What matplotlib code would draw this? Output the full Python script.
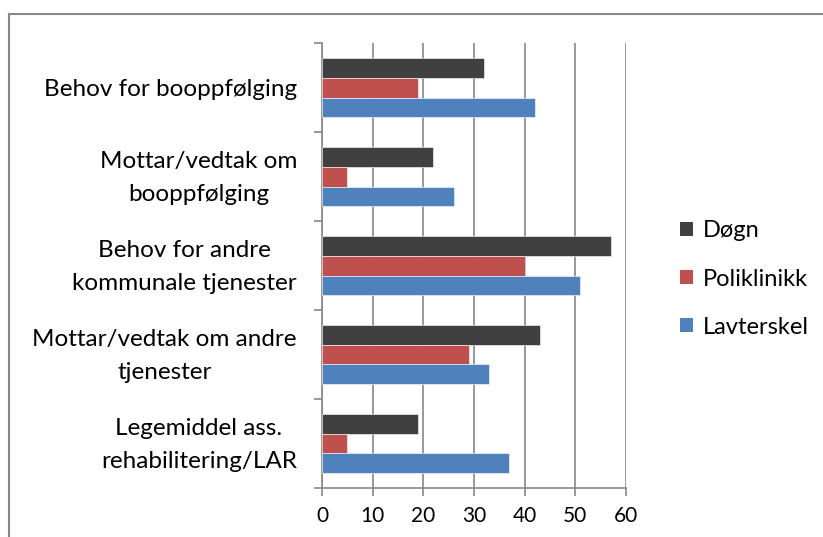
import matplotlib
matplotlib.use("Agg")
import matplotlib.pyplot as plt
from matplotlib.lines import Line2D
from matplotlib.patches import Patch
import numpy as np

plt.rcParams['font.family'] = ['Lato', 'DejaVu Sans']

categories = [
    "Behov for booppfølging",
    "Mottar/vedtak om\nbooppfølging",
    "Behov for andre\nkommunale tjenester",
    "Mottar/vedtak om andre\ntjenester",
    "Legemiddel ass.\nrehabilitering/LAR",
]
series_names = ["Døgn", "Poliklinikk", "Lavterskel"]
dogn = [32, 22, 57, 43, 19]
poliklinikk = [19, 5, 40, 29, 5]
lavterskel = [42, 26, 51, 33, 37]
xticks = [0, 10, 20, 30, 40, 50, 60]

colors = ["#404040", "#C0504D", "#4F81BD"]
grid_col = "#878787"

W, H = 823, 537
fig = plt.figure(figsize=(W / 100, H / 100), dpi=100)
ax = fig.add_axes([322 / W, 1 - 488 / H, (626 - 322) / W, (488 - 43.3) / H])

n = len(categories)
y = np.arange(n)
h = 1 / 4.5
series = [dogn, poliklinikk, lavterskel]
offsets = [-h, 0, h]
for vals, off, c, name in zip(series, offsets, colors, series_names):
    ax.barh(y + off, vals, height=h, color=c, edgecolor="white", linewidth=0.4,
            label=name, zorder=3)

ax.set_xlim(0, 60)
ax.set_ylim(n - 0.5, -0.5)
ax.set_xticks(xticks)
ax.set_xticklabels([str(v) for v in xticks], fontsize=15)

# category boundary ticks
ax.set_yticks(np.arange(-0.5, n, 1.0))
ax.set_yticklabels([])
ax.tick_params(axis="y", which="major", length=6, width=1.2, color=grid_col)
ax.tick_params(axis="x", length=6, width=1.2, color=grid_col, pad=7)

# category labels (last baseline placed so the block is centred on the category)
for yi, cat in zip(y, categories):
    dy = -17.5 if "\n" in cat else -6.0
    ax.annotate(cat, xy=(0, yi), xycoords=("axes fraction", "data"),
                xytext=(-18, dy), textcoords="offset points",
                ha="right", va="baseline", multialignment="center",
                fontsize=17.5, linespacing=1.72, annotation_clip=False)

ax.grid(axis="x", color=grid_col, linewidth=1.2, zorder=0)
ax.set_axisbelow(True)
for s in ["top", "right"]:
    ax.spines[s].set_visible(False)
for s in ["left", "bottom"]:
    ax.spines[s].set_color(grid_col)
    ax.spines[s].set_linewidth(1.2)

handles = [Patch(facecolor=c, edgecolor="none") for c in colors]
fig.legend(handles, series_names, loc="center left",
           bbox_to_anchor=(675 / W, 1 - 279 / H), frameon=False, fontsize=17,
           handlelength=0.55, handleheight=0.55, handletextpad=0.45,
           labelspacing=1.15, borderpad=0.2, borderaxespad=0)

# outer chart border (top and left visible)
fig.add_artist(Line2D([8.5 / W, 1], [1 - 14 / H, 1 - 14 / H], color=grid_col,
                      linewidth=1.5, transform=fig.transFigure))
fig.add_artist(Line2D([8.5 / W, 8.5 / W], [0, 1 - 14 / H], color=grid_col,
                      linewidth=1.5, transform=fig.transFigure))

fig.savefig("out.png", dpi=100)
